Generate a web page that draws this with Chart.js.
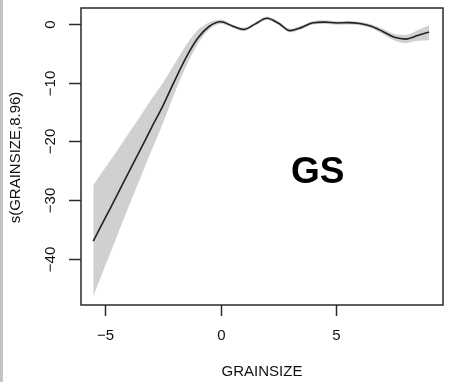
<!DOCTYPE html>
<html>
<head>
<meta charset="utf-8">
<script src="https://cdn.jsdelivr.net/npm/chart.js@4/dist/chart.umd.min.js"></script>
<style>
  html, body { margin: 0; padding: 0; }
  body {
    width: 452px; height: 382px;
    background: linear-gradient(to right, #c4c4c4 0, #c4c4c4 3px, #fff 3px);
  }
  canvas { display: block; }
</style>
</head>
<body>
<canvas id="chart" width="452" height="382"></canvas>
<script>
// ==============================
// DATA
// ==============================
const grainSize = [-5.5, -5, -4.5, -4, -3.5, -3, -2.5, -2, -1.5, -1, -0.5, 0, 0.5, 1, 1.5,
  2, 2.5, 3, 3.5, 4, 4.5, 5, 5.5, 6, 6.5, 7, 7.5, 8, 8.5, 9];

const smoothFit = [-37.0, -33.2, -29.4, -25.5, -21.7, -17.8, -14.0, -9.8, -5.8, -2.5, -0.45, 0.35, -0.35, -0.95, 0.0,
  0.95, 0.1, -1.15, -0.6, 0.2, 0.3, 0.15, 0.2, 0.05, -0.4, -1.3, -2.3, -2.6, -2.0, -1.4];

const upperBand = [-27.5, -24.6, -21.8, -18.8, -15.9, -12.9, -10.1, -6.9, -3.7, -1.1, 0.25, 0.75, -0.05, -0.65, 0.3,
  1.25, 0.4, -0.85, -0.3, 0.5, 0.6, 0.45, 0.5, 0.35, -0.05, -0.85, -1.75, -1.9, -1.1, -0.25];

const lowerBand = [-46.4, -41.4, -36.4, -31.4, -26.6, -21.7, -17.0, -11.9, -7.3, -3.5, -1.0, 0.0, -0.65, -1.25, -0.3,
  0.65, -0.2, -1.45, -0.9, -0.1, 0.0, -0.15, -0.1, -0.25, -0.75, -1.75, -2.85, -3.3, -2.9, -2.8];

const xTicks = [-5, 0, 5];
const yTicks = [0, -10, -20, -30, -40];
const xTitle = "GRAINSIZE";
const yTitle = "s(GRAINSIZE,8.96)";
const panelTag = "GS";

const pts = ys => grainSize.map((x, i) => ({ x: x, y: ys[i] }));
const fmt = v => String(v).replace("-", "\u2212");

// ==============================
// R-STYLE AXES (box, ticks, labels)
// ==============================
const rAxes = {
  id: "rAxes",
  afterDraw(chart) {
    const ctx = chart.ctx;
    const { left, right, top, bottom } = chart.chartArea;
    const sx = chart.scales.x, sy = chart.scales.y;

    ctx.save();
    ctx.strokeStyle = "#2a2a2a";
    ctx.lineWidth = 1.5;
    ctx.strokeRect(left, top, right - left, bottom - top);

    ctx.fillStyle = "#111";
    ctx.font = "15px 'Liberation Sans', Arial, sans-serif";

    // x axis
    ctx.textAlign = "center";
    ctx.textBaseline = "middle";
    xTicks.forEach(v => {
      const px = Math.round(sx.getPixelForValue(v)) + 0.5;
      ctx.beginPath();
      ctx.moveTo(px, bottom);
      ctx.lineTo(px, bottom + 11);
      ctx.stroke();
      ctx.fillText(fmt(v), px, 336);
    });
    ctx.fillText(xTitle, (left + right) / 2, 372);

    // y axis (labels rotated like base R)
    yTicks.forEach(v => {
      const py = Math.round(sy.getPixelForValue(v)) + 0.5;
      ctx.beginPath();
      ctx.moveTo(left, py);
      ctx.lineTo(left - 12, py);
      ctx.stroke();
      ctx.save();
      ctx.translate(51, py);
      ctx.rotate(-Math.PI / 2);
      ctx.fillText(fmt(v), 0, 0);
      ctx.restore();
    });
    ctx.save();
    ctx.translate(16, (top + bottom) / 2 + 1);
    ctx.rotate(-Math.PI / 2);
    ctx.fillText(yTitle, 0, 0);
    ctx.restore();

    // panel tag
    ctx.fillStyle = "#000";
    ctx.font = "bold 37px 'Liberation Sans', Arial, sans-serif";
    ctx.textAlign = "left";
    ctx.textBaseline = "alphabetic";
    ctx.fillText(panelTag, 291, 183);
    ctx.restore();
  }
};

// ==============================
// CHART
// ==============================
// lower "order" is drawn on top, so the fit line sits above the band
new Chart(document.getElementById("chart"), {
  type: "line",
  data: {
    datasets: [
      {
        data: pts(upperBand),
        borderWidth: 0,
        pointRadius: 0,
        backgroundColor: "#d0d0d0",
        fill: "+1",
        order: 2
      },
      {
        data: pts(lowerBand),
        borderWidth: 0,
        pointRadius: 0,
        fill: false,
        order: 2
      },
      {
        data: pts(smoothFit),
        borderColor: "#222",
        borderWidth: 1.6,
        pointRadius: 0,
        fill: false,
        order: 0
      }
    ]
  },
  options: {
    responsive: false,
    animation: false,
    cubicInterpolationMode: "monotone",
    layout: { padding: { left: 81, right: 9, top: 8, bottom: 77 } },
    plugins: { legend: { display: false }, tooltip: { enabled: false } },
    scales: {
      x: { type: "linear", min: -6.03, max: 9.6, display: false },
      y: { type: "linear", min: -47.9, max: 2.7, display: false }
    }
  },
  plugins: [rAxes]
});
</script>
</body>
</html>
